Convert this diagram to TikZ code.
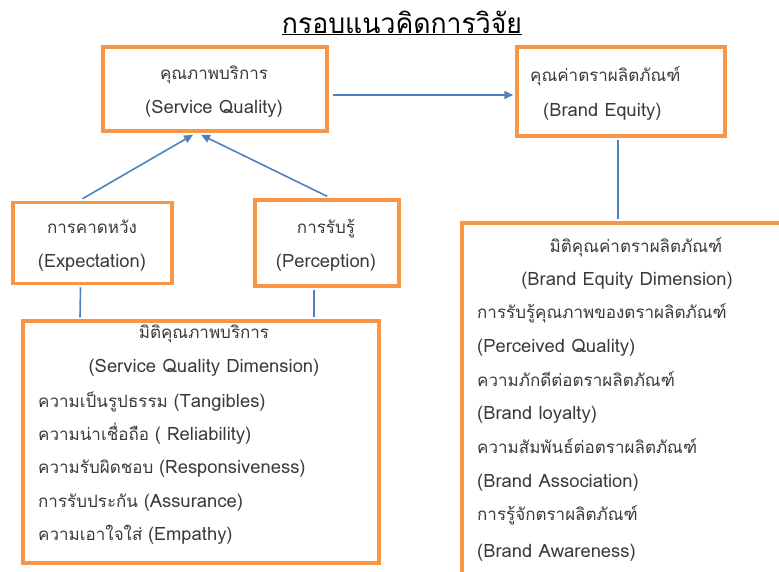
\documentclass[tikz,border=0pt]{standalone}
\usepackage{fontspec}
\setmainfont[Script=Thai]{Loma}
\usetikzlibrary{arrows.meta,calc}
\definecolor{boxorange}{HTML}{F79646}
\definecolor{linkblue}{HTML}{4F81BD}
\definecolor{txtgray}{HTML}{3A3A3A}
\newcommand{\lat}[1]{{\fontsize{18.4}{20}\selectfont #1}}
\begin{document}
\begin{tikzpicture}[x=1pt,y=-1pt,
  box/.style={draw=boxorange,line width=3.5pt,inner sep=0pt},
  lbl/.style={font=\fontsize{17}{19}\selectfont,text=txtgray,inner sep=0pt},
  link/.style={draw=linkblue,line width=1.6pt},
  arr/.style={link,-{Triangle[length=9pt,width=8pt]}}]
\useasboundingbox (0,0) rectangle (779,571);
\clip (0,0) rectangle (779,571);
% title
\node[font=\fontsize{28}{30}\selectfont,inner sep=0pt,anchor=base,xscale=0.95] (title) at (402,33) {\underline{กรอบแนวคิดการวิจัย}};
% boxes
\node[box,minimum width=224pt,minimum height=84pt] (sq) at (215,89) {};
\node[box,minimum width=208pt,minimum height=89pt] (be) at (621,91.5) {};
\node[box,minimum width=159pt,minimum height=81pt] (exp) at (92.5,243) {};
\node[box,minimum width=144pt,minimum height=86pt] (perc) at (327,243) {};
\node[box,minimum width=356pt,minimum height=242pt] (sqd) at (201,442) {};
\node[box,minimum width=338pt,minimum height=378pt] (bed) at (631,412) {};
% texts
\node[lbl,anchor=base] (sq1) at (214,79) {คุณภาพบริการ};
\node[lbl,anchor=base] (sq2) at (214,113) {\lat{(Service Quality)}};
\node[lbl,anchor=base west] (be1) at (530,81) {คุณค่าตราผลิตภัณฑ์};
\node[lbl,anchor=base west] (be2) at (543,116) {\lat{(Brand Equity)}};
\node[lbl,anchor=base] (exp1) at (92,233) {การคาดหวัง};
\node[lbl,anchor=base] (exp2) at (92,267) {\lat{(Expectation)}};
\node[lbl,anchor=base] (perc1) at (326,233) {การรับรู้};
\node[lbl,anchor=base] (perc2) at (326,267) {\lat{(Perception)}};
\node[lbl,anchor=base] (sqd1) at (204,338) {มิติคุณภาพบริการ};
\node[lbl,anchor=base] (sqd2) at (204,372) {\lat{(Service Quality Dimension)}};
\node[lbl,anchor=base west] (sqd3) at (38,407) {ความเป็นรูปธรรม \lat{(Tangibles)}};
\node[lbl,anchor=base west] (sqd4) at (38,440) {ความน่าเชื่อถือ \lat{( Reliability)}};
\node[lbl,anchor=base west] (sqd5) at (38,473) {ความรับผิดชอบ \lat{(Responsiveness)}};
\node[lbl,anchor=base west] (sqd6) at (38,507) {การรับประกัน \lat{(Assurance)}};
\node[lbl,anchor=base west] (sqd7) at (38,540) {ความเอาใจใส่ \lat{(Empathy)}};
\node[lbl,anchor=base] (bed1) at (636,252) {มิติคุณค่าตราผลิตภัณฑ์};
\node[lbl,anchor=base] (bed2) at (627,285) {\lat{(Brand Equity Dimension)}};
\node[lbl,anchor=base west] (bed3) at (477,318) {การรับรู้คุณภาพของตราผลิตภัณฑ์};
\node[lbl,anchor=base west] (bed4) at (477,352) {\lat{(Perceived Quality)}};
\node[lbl,anchor=base west] (bed5) at (477,386) {ความภักดีต่อตราผลิตภัณฑ์};
\node[lbl,anchor=base west] (bed6) at (477,419) {\lat{(Brand loyalty)}};
\node[lbl,anchor=base west] (bed7) at (477,453) {ความสัมพันธ์ต่อตราผลิตภัณฑ์};
\node[lbl,anchor=base west] (bed8) at (477,487) {\lat{(Brand Association)}};
\node[lbl,anchor=base west] (bed9) at (477,520) {การรู้จักตราผลิตภัณฑ์};
\node[lbl,anchor=base west] (bed10) at (477,557) {\lat{(Brand Awareness)}};
% connectors
\draw[arr] ($(sq.east)+(4,6)$) -- ($(be.west)+(-2,3.5)$);
\draw[arr] ($(exp.north)+(-10,-2)$) -- ($(sq.south)+(-22,2)$);
\draw[arr] ($(perc.north)+(0,-2)$) -- ($(sq.south)+(-14,2)$);
\draw[link] ($(exp.south)+(-12,2)$) -- ($(sqd.north)+(-121,-2)$);
\draw[link] ($(perc.south)+(-13,2)$) -- ($(sqd.north)+(113,-2)$);
\draw[link] ($(be.south)+(-3,2)$) -- ($(bed.north)+(-13,-2)$);
\end{tikzpicture}
\end{document}
